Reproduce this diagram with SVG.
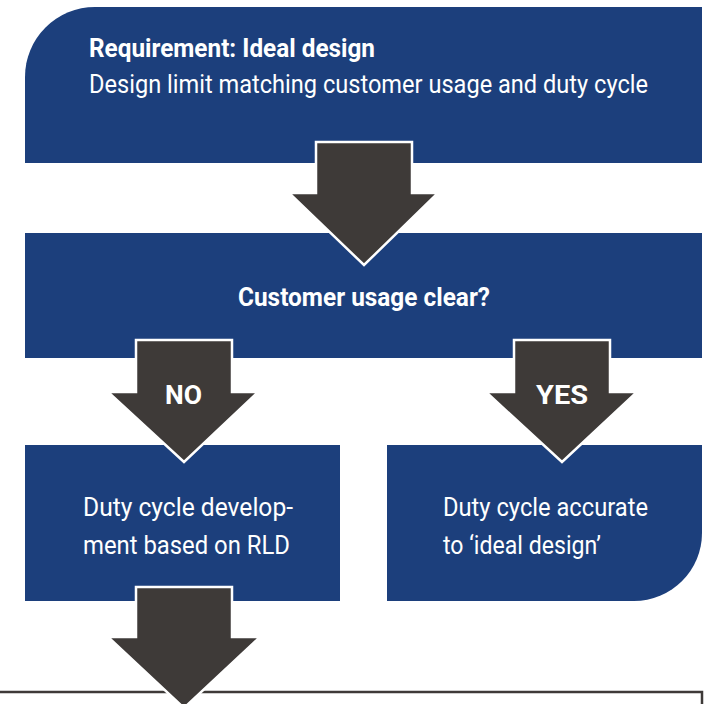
<svg xmlns="http://www.w3.org/2000/svg" width="718" height="704" viewBox="0 0 718 704">
<style>
.box{fill:#1c3f7c}
.arrow{fill:#3e3a38;stroke:#ffffff;stroke-width:2.5;stroke-linejoin:miter}
.t{font-family:Roboto,"Liberation Sans",sans-serif;fill:#ffffff;font-size:25px}
.b{font-weight:bold}
</style>
<rect width="718" height="704" fill="#ffffff"/>
<g id="bottom-box">
<rect x="-10" y="692" width="712" height="40" fill="none" stroke="#3e3a38" stroke-width="2.5"/>
</g>
<g id="requirement">
<path class="box" d="M25,163 L25,77 A70,70 0 0 1 95,7 L702,7 L702,163 Z"/>
<text class="t b" x="89" y="57" font-size="23" textLength="286" lengthAdjust="spacingAndGlyphs">Requirement: Ideal design</text>
<text class="t" x="89" y="93" textLength="559" lengthAdjust="spacingAndGlyphs">Design limit matching customer usage and duty cycle</text>
</g>
<g id="question">
<rect class="box" x="25" y="233" width="677" height="125"/>
<text class="t b" x="364" y="306" font-size="24" text-anchor="middle" textLength="252" lengthAdjust="spacingAndGlyphs">Customer usage clear?</text>
</g>
<g id="no-box">
<rect class="box" x="25" y="445" width="315" height="156"/>
<text class="t" x="83" y="516" textLength="210" lengthAdjust="spacingAndGlyphs">Duty cycle develop-</text>
<text class="t" x="83" y="554" textLength="207" lengthAdjust="spacingAndGlyphs">ment based on RLD</text>
</g>
<g id="yes-box">
<path class="box" d="M387,445 L702,445 L702,533 A68,68 0 0 1 634,601 L387,601 Z"/>
<text class="t" x="443" y="516" textLength="205" lengthAdjust="spacingAndGlyphs">Duty cycle accurate</text>
<text class="t" x="443" y="554" textLength="158" lengthAdjust="spacingAndGlyphs">to ‘ideal design’</text>
</g>
<g id="connectors">
<path class="arrow" d="M316,142 L412,142 L412,193 L438,193 L364,265 L289,193 L316,193 Z"/>
<path class="arrow" d="M136,340 L232,340 L232,392 L258,392 L184,462 L108,392 L136,392 Z"/>
<text class="t b" x="165" y="404" font-size="29" textLength="37" lengthAdjust="spacingAndGlyphs">NO</text>
<path class="arrow" d="M514,340 L610,340 L610,392 L637,392 L562,462 L486,392 L514,392 Z"/>
<text class="t b" x="536" y="404" font-size="29" textLength="52" lengthAdjust="spacingAndGlyphs">YES</text>
<path class="arrow" d="M136,587 L232,587 L232,637 L260,637 L184,708 L108,637 L136,637 Z"/>
</g>
</svg>
